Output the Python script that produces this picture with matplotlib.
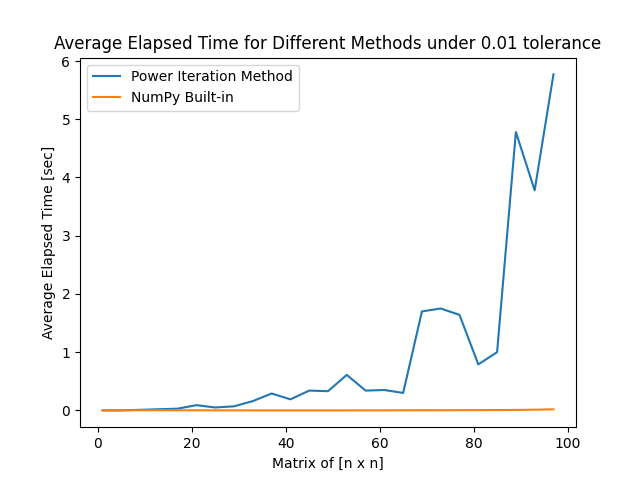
import matplotlib
matplotlib.use("Agg")
import matplotlib.pyplot as plt

sizes = list(range(1, 98, 4))
power = [0.0, 0.0, 0.01, 0.02, 0.03, 0.09, 0.05, 0.07, 0.16, 0.29, 0.19, 0.34, 0.33,
         0.61, 0.34, 0.35, 0.30, 1.70, 1.75, 1.64, 0.79, 1.0, 4.78, 3.78, 5.77]
numpy_t = [0.0, 0.002, 0.003, 0.003, 0.002, 0.002, 0.001, 0.001, 0.0, 0.0, 0.0, 0.0, 0.0,
           0.0, 0.001, 0.001, 0.002, 0.003, 0.003, 0.004, 0.005, 0.006, 0.008, 0.012, 0.018]

fig, ax = plt.subplots(figsize=(6.4, 4.8), dpi=100)
ax.plot(sizes, power, label="Power Iteration Method")
ax.plot(sizes, numpy_t, label="NumPy Built-in")
ax.set_title("Average Elapsed Time for Different Methods under 0.01 tolerance")
ax.set_xlabel("Matrix of [n x n]")
ax.set_ylabel("Average Elapsed Time [sec]")
ax.legend(loc="upper left")
fig.savefig("out.png")
